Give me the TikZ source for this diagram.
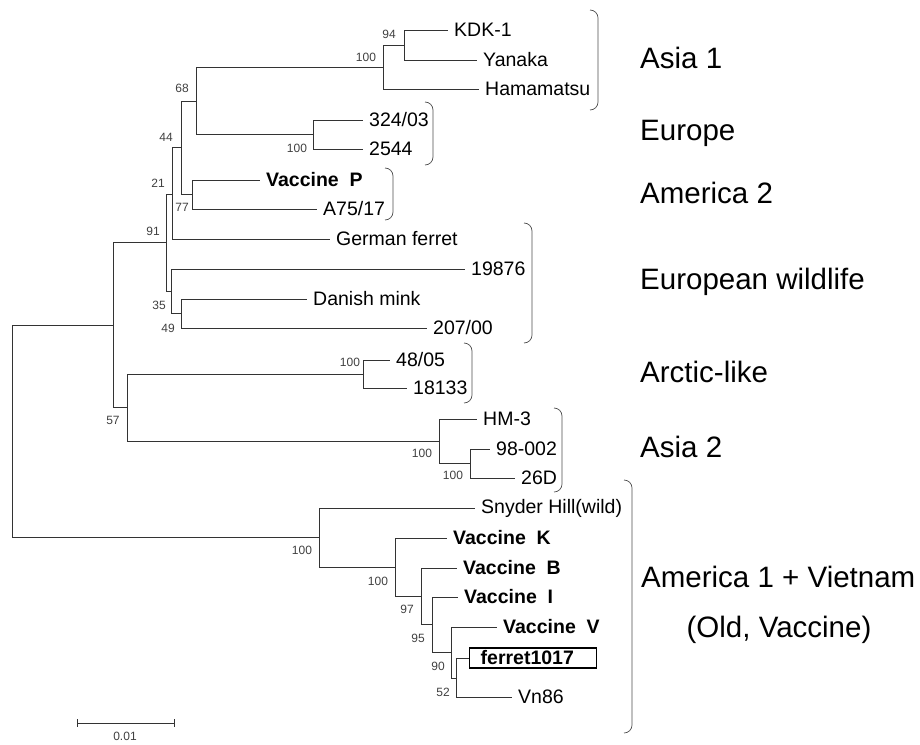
\documentclass[tikz,border=0pt]{standalone}
\usepackage{fontspec}
\setmainfont{Liberation Sans}
\begin{document}
\begin{tikzpicture}[x=1pt, y=-1pt,
    branch/.style={draw=black!80, line width=0.8pt},
    leaf/.style={anchor=west, inner xsep=6pt, inner ysep=1pt, font=\fontsize{19.5}{22}\selectfont},
    vacc/.style={leaf, font=\fontsize{19.5}{22}\selectfont\bfseries},
    boot/.style={text=black!75, inner sep=0pt, font=\fontsize{12}{13}\selectfont},
    clade/.style={draw=black!70, line width=0.7pt},
    group/.style={anchor=west, inner sep=0pt, font=\fontsize{29.5}{33}\selectfont}]
    \useasboundingbox (0,0) rectangle (920,744);

    %Inner nodes
    \coordinate (root) at (12, 431);
    \coordinate (nIn) at (113, 325);
    \coordinate (n91) at (166, 242);
    \coordinate (n21) at (172, 194);
    \coordinate (n44) at (181, 147);
    \coordinate (n68) at (196, 101);
    \coordinate (nAsA) at (383, 67);
    \coordinate (n94) at (404, 45);
    \coordinate (nEu) at (313, 134.5);
    \coordinate (n77) at (192, 194.5);
    \coordinate (n35) at (171, 291);
    \coordinate (n49) at (181, 313.5);
    \coordinate (n57) at (127, 407);
    \coordinate (nAr) at (363, 374);
    \coordinate (nAsB) at (439, 441);
    \coordinate (nHm) at (470, 463.5);
    \coordinate (nAm) at (319, 537.5);
    \coordinate (nK) at (395, 567);
    \coordinate (n97) at (421, 596);
    \coordinate (n95) at (432, 624.5);
    \coordinate (n90) at (451, 652);
    \coordinate (n52) at (456, 678);

    %Leaves
    \node[leaf] at (448, 30) (kdk) {KDK-1};
    \node[leaf] at (477, 60) (yan) {Yanaka};
    \node[leaf] at (479, 89) (ham) {Hamamatsu};
    \node[leaf] at (363, 120) (e324) {324/03};
    \node[leaf] at (363, 149) (e2544) {2544};
    \node[vacc] at (260, 180) (vP) {Vaccine~~P};
    \node[leaf] at (317, 209) (a75) {A75/17};
    \node[leaf] at (330, 239) (gfer) {German ferret};
    \node[leaf] at (465, 269) (w19876) {19876};
    \node[leaf] at (307, 299) (dmink) {Danish mink};
    \node[leaf] at (427, 328) (w207) {207/00};
    \node[leaf] at (390, 360) (ar48) {48/05};
    \node[leaf] at (407, 388) (ar18) {18133};
    \node[leaf] at (477, 419) (hm3) {HM-3};
    \node[leaf] at (490, 449) (s98) {98-002};
    \node[leaf] at (515, 478) (s26) {26D};
    \node[leaf] at (475, 508) (sny) {Snyder Hill(wild)};
    \node[vacc] at (447, 538) (vK) {Vaccine~~K};
    \node[vacc] at (457, 568) (vB) {Vaccine~~B};
    \node[vacc] at (458, 597) (vI) {Vaccine~~I};
    \node[vacc] at (497, 627) (vV) {Vaccine~~V};
    \node[draw, line width=1.4pt, anchor=west, minimum height=20pt, text width=105pt,
          inner xsep=11pt, inner ysep=1pt, font=\fontsize{19.5}{22}\selectfont\bfseries]
          at (469, 658) (fer) {ferret1017};
    \node[leaf] at (512, 697) (vn86) {Vn86};

    %Branches
    \draw[branch] (root) |- (nIn);
    \draw[branch] (root) |- (nAm);
    \draw[branch] (nIn) |- (n91);
    \draw[branch] (nIn) |- (n57);
    \draw[branch] (n91) |- (n21);
    \draw[branch] (n91) |- (n35);
    \draw[branch] (n21) |- (n44);
    \draw[branch] (n21) |- (gfer.west);
    \draw[branch] (n44) |- (n68);
    \draw[branch] (n44) |- (n77);
    \draw[branch] (n68) |- (nAsA);
    \draw[branch] (n68) |- (nEu);
    \draw[branch] (nAsA) |- (n94);
    \draw[branch] (nAsA) |- (ham.west);
    \draw[branch] (n94) |- (kdk.west);
    \draw[branch] (n94) |- (yan.west);
    \draw[branch] (nEu) |- (e324.west);
    \draw[branch] (nEu) |- (e2544.west);
    \draw[branch] (n77) |- (vP.west);
    \draw[branch] (n77) |- (a75.west);
    \draw[branch] (n35) |- (w19876.west);
    \draw[branch] (n35) |- (n49);
    \draw[branch] (n49) |- (dmink.west);
    \draw[branch] (n49) |- (w207.west);
    \draw[branch] (n57) |- (nAr);
    \draw[branch] (n57) |- (nAsB);
    \draw[branch] (nAr) |- (ar48.west);
    \draw[branch] (nAr) |- (ar18.west);
    \draw[branch] (nAsB) |- (hm3.west);
    \draw[branch] (nAsB) |- (nHm);
    \draw[branch] (nHm) |- (s98.west);
    \draw[branch] (nHm) |- (s26.west);
    \draw[branch] (nAm) |- (sny.west);
    \draw[branch] (nAm) |- (nK);
    \draw[branch] (nK) |- (vK.west);
    \draw[branch] (nK) |- (n97);
    \draw[branch] (n97) |- (vB.west);
    \draw[branch] (n97) |- (n95);
    \draw[branch] (n95) |- (vI.west);
    \draw[branch] (n95) |- (n90);
    \draw[branch] (n90) |- (vV.west);
    \draw[branch] (n90) |- (n52);
    \draw[branch] (n52) |- (fer.west);
    \draw[branch] (n52) |- (vn86.west);

    %Bootstrap values
    \node[boot] at (389, 34) (b94) {94};
    \node[boot] at (366, 57) (bAsA) {100};
    \node[boot] at (182, 88) (b68) {68};
    \node[boot] at (297, 148) (bEu) {100};
    \node[boot] at (166, 137) (b44) {44};
    \node[boot] at (158, 183) (b21) {21};
    \node[boot] at (182, 207) (b77) {77};
    \node[boot] at (153, 231) (b91) {91};
    \node[boot] at (159, 305) (b35) {35};
    \node[boot] at (168, 328) (b49) {49};
    \node[boot] at (350, 362) (bAr) {100};
    \node[boot] at (113, 420) (b57) {57};
    \node[boot] at (422, 453) (bAsB) {100};
    \node[boot] at (453, 475) (bHm) {100};
    \node[boot] at (302, 550) (bAm) {100};
    \node[boot] at (378, 581) (bK) {100};
    \node[boot] at (407, 609) (b97) {97};
    \node[boot] at (418, 638) (b95) {95};
    \node[boot] at (438, 666) (b90) {90};
    \node[boot] at (443, 692) (b52) {52};

    %Clade brackets
    \foreach \bx/\ya/\yb in {598/10/110, 433/102/165, 393/168/220, 532/223/343,
                            472/343/403, 562/408/492, 632/480/733}
        \draw[clade] (\bx-8, \ya) to[out=0, in=90] (\bx, \ya+8) -- (\bx, \yb-8)
                     to[out=-90, in=0] (\bx-8, \yb);

    %Clade names
    \node[group] at (640, 58) (gAsA) {Asia 1};
    \node[group] at (640, 133) (gEu) {Europe};
    \node[group] at (640, 193) (gAmB) {America 2};
    \node[group] at (640, 282) (gWild) {European wildlife};
    \node[group] at (640, 372) (gAr) {Arctic-like};
    \node[group] at (640, 447) (gAsB) {Asia 2};
    \node[group] at (641, 577) (gAmA) {America 1 + Vietnam};
    \node[group, anchor=center] at (779, 630) (gOld) {(Old, Vaccine)};

    %Scale bar
    \coordinate (sbL) at (77, 723);
    \coordinate (sbR) at (175, 723);
    \draw[branch, |-|] (sbL) -- (sbR);
    \node[boot] at (125, 736) (sb) {0.01};
\end{tikzpicture}
\end{document}
